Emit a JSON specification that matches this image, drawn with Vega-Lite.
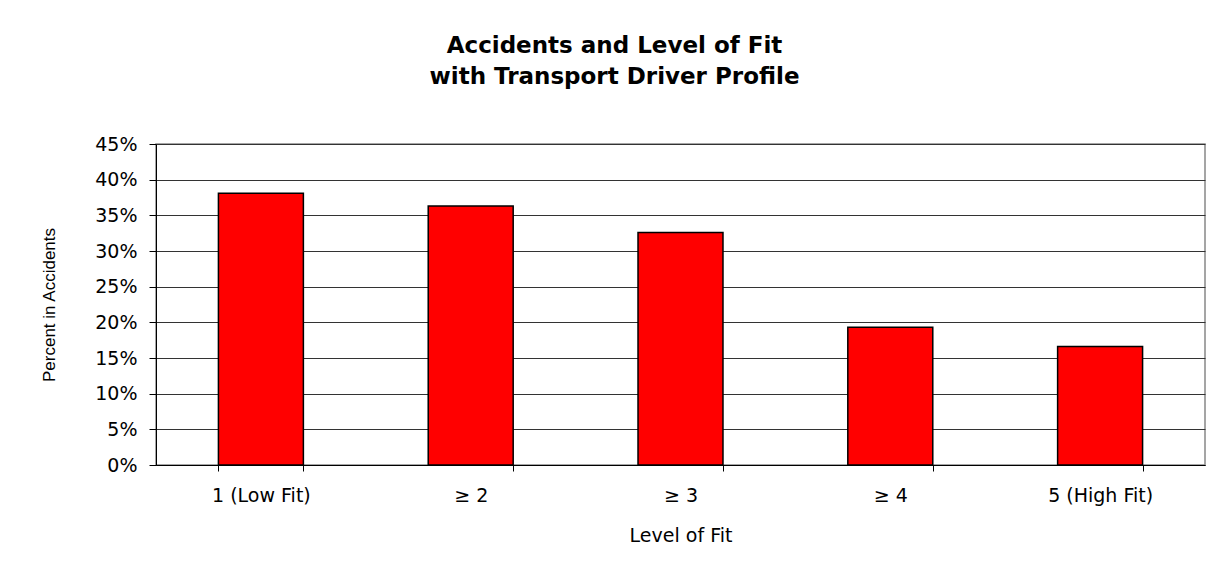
{
  "$schema": "https://vega.github.io/schema/vega-lite/v6.json",
  "autosize": "none",
  "width": 1049,
  "height": 321,
  "padding": {"left": 156, "top": 144, "right": 10, "bottom": 98},
  "background": "white",
  "title": {
    "text": ["Accidents and Level of Fit", "with Transport Driver Profile"],
    "font": "DejaVu Sans",
    "fontSize": 23,
    "fontWeight": "bold",
    "lineHeight": 31,
    "color": "black",
    "anchor": "middle",
    "frame": "group",
    "dx": -66,
    "offset": 46
  },
  "data": {
    "values": [
      {"fit": "1 (Low Fit)", "pct": 0.381},
      {"fit": "≥ 2", "pct": 0.363},
      {"fit": "≥ 3", "pct": 0.326},
      {"fit": "≥ 4", "pct": 0.193},
      {"fit": "5 (High Fit)", "pct": 0.166}
    ]
  },
  "mark": {"type": "bar", "fill": "#FF0000", "stroke": "black", "strokeWidth": 1.5},
  "encoding": {
    "x": {
      "field": "fit",
      "type": "nominal",
      "sort": null,
      "scale": {"paddingInner": 0.595, "paddingOuter": 0.2975},
      "axis": {
        "title": "Level of Fit",
        "labelAngle": 0,
        "tickBand": "extent",
        "tickSize": 6,
        "tickColor": "black",
        "domainColor": "black",
        "labelFont": "DejaVu Sans",
        "labelFontSize": 19,
        "labelColor": "black",
        "labelPadding": 15,
        "titleFont": "DejaVu Sans",
        "titleFontSize": 19,
        "titleFontWeight": "normal",
        "titleColor": "black",
        "titlePadding": 21,
        "grid": false
      }
    },
    "y": {
      "field": "pct",
      "type": "quantitative",
      "scale": {"domain": [0, 0.45], "nice": false},
      "axis": {
        "title": "Percent in Accidents",
        "values": [0, 0.05, 0.1, 0.15, 0.2, 0.25, 0.3, 0.35, 0.4, 0.45],
        "format": ".0%",
        "tickSize": 7,
        "tickColor": "black",
        "domainColor": "black",
        "grid": true,
        "gridColor": "#333333",
        "gridWidth": 1,
        "labelFont": "DejaVu Sans",
        "labelFontSize": 19,
        "labelColor": "black",
        "labelPadding": 12,
        "titleFont": "Liberation Sans",
        "titleFontSize": 17,
        "titleFontWeight": "normal",
        "titleColor": "black",
        "titlePadding": 36
      }
    }
  },
  "config": {
    "view": {"stroke": "#888888", "strokeWidth": 1.5}
  }
}
